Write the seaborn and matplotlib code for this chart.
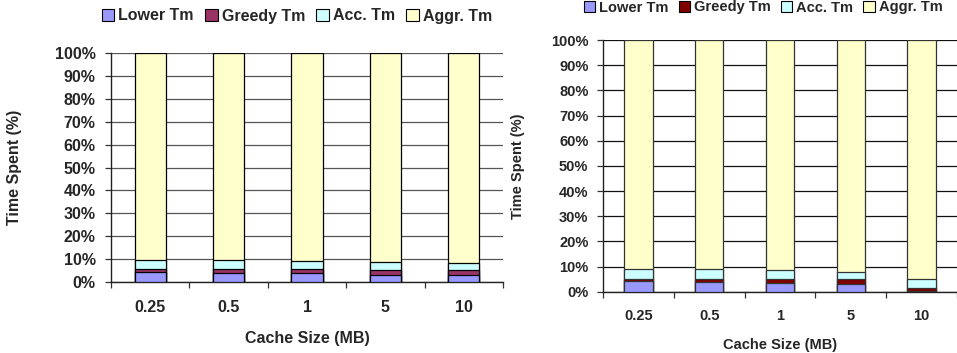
import matplotlib
matplotlib.use("Agg")
import matplotlib.pyplot as plt
from matplotlib.patches import Patch
import numpy as np
import seaborn as sns

# Cache sizes (MB) on the x axis
cache_sizes = ["0.25", "0.5", "1", "5", "10"]
series_names = ["Lower Tm", "Greedy Tm", "Acc. Tm", "Aggr. Tm"]

# Left panel: share of time (%) per phase
left_lower = [4.4, 4.0, 3.6, 2.9, 2.9]
left_greedy = [1.0, 1.4, 1.9, 2.1, 2.1]
left_acc = [4.1, 4.1, 3.6, 3.7, 3.2]
left_aggr = [90.5, 90.5, 90.9, 91.3, 91.8]

# Right panel: share of time (%) per phase
right_lower = [4.3, 3.9, 3.5, 3.1, 0.1]
right_greedy = [0.9, 1.3, 1.7, 1.9, 1.2]
right_acc = [4.0, 4.0, 3.6, 3.0, 3.7]
right_aggr = [90.8, 90.8, 91.2, 92.0, 95.0]

left_colors = ["#9999FF", "#993366", "#CCFFFF", "#FFFFCC"]
right_colors = ["#9999FF", "#800000", "#CCFFFF", "#FFFFCC"]

sns.set_style("white")
plt.rcParams["font.family"] = ["Liberation Sans", "DejaVu Sans"]
plt.rcParams["font.weight"] = "bold"

W, H = 957, 353
fig = plt.figure(figsize=(W / 100, H / 100), dpi=100)


def px_axes(x0, x1, ytop, ybot):
    return fig.add_axes([x0 / W, 1 - ybot / H, (x1 - x0) / W, (ybot - ytop) / H])


def draw_panel(ax, parts, colors, edge, fs, cat_px, grid_color, tickpad_y, tickpad_x,
               xlabel_y, ylabel_x):
    cum = np.cumsum(np.array(parts), axis=0)
    # Stack by overdrawing cumulative totals, tallest first
    for i in range(len(parts) - 1, -1, -1):
        sns.barplot(x=cache_sizes, y=cum[i], color=colors[i], saturation=1,
                    width=0.4, edgecolor=edge, linewidth=0.9, ax=ax, zorder=3)
    ax.set_ylim(0, 100)
    width_px = ax.get_position().width * W
    ax.set_xlim(-0.5, -0.5 + width_px / cat_px)
    ax.set_yticks(np.arange(0, 101, 10))
    ax.set_yticklabels([f"{v}%" for v in range(0, 101, 10)], fontsize=fs, fontweight="bold")
    ax.yaxis.grid(True, color=grid_color, linewidth=0.9)
    ax.set_axisbelow(True)
    # Category boundaries carry the tick marks, labels sit in between
    ax.set_xticks(np.arange(-0.5, 5, 1.0))
    ax.set_xticklabels([])
    ax.set_xticks(np.arange(5), minor=True)
    ax.set_xticklabels(cache_sizes, minor=True, fontsize=fs, fontweight="bold")
    ax.tick_params(axis="x", which="major", direction="out", length=4, width=0.9,
                   color="#333333", bottom=True)
    ax.tick_params(axis="x", which="minor", length=0, pad=tickpad_x)
    ax.tick_params(axis="y", direction="out", length=4, width=0.9, color="#333333",
                   left=True, pad=tickpad_y)
    for s in ["top", "right"]:
        ax.spines[s].set_visible(False)
    for s in ["left", "bottom"]:
        ax.spines[s].set_color("#222222")
        ax.spines[s].set_linewidth(1.0)
    ax.set_xlabel("Cache Size (MB)", fontsize=fs, fontweight="bold")
    ax.set_ylabel("Time Spent (%)", fontsize=fs, fontweight="bold")
    ax.xaxis.set_label_coords(0.5, xlabel_y)
    ax.xaxis.label.set_va("center")
    ax.yaxis.set_label_coords(ylabel_x, 0.5)
    ax.yaxis.label.set_va("center")


def add_legend(colors, fs, cx, cy):
    handles = [Patch(facecolor=c, edgecolor="black", linewidth=0.8) for c in colors]
    fig.legend(handles, series_names, loc="center", bbox_to_anchor=(cx / W, 1 - cy / H),
               ncol=4, frameon=False, handlelength=0.8, handleheight=0.7,
               handletextpad=0.25, columnspacing=0.7, borderpad=0,
               prop={"weight": "bold", "size": fs})


ax1 = px_axes(111, 503, 53.3, 281.7)
draw_panel(ax1, [left_lower, left_greedy, left_acc, left_aggr], left_colors, "black",
           11.5, 82, "#555555", 7, 13, -0.25, -0.245)
add_legend(left_colors, 11.5, 297, 16)

ax2 = px_axes(603, 957, 40, 291.7)
draw_panel(ax2, [right_lower, right_greedy, right_acc, right_aggr], right_colors,
           "#333333", 10.5, 72, "#111111", 6.5, 12.5, -0.21, -0.24)
add_legend(right_colors, 10.5, 763, 7.5)

fig.savefig("out.png", dpi=100)
